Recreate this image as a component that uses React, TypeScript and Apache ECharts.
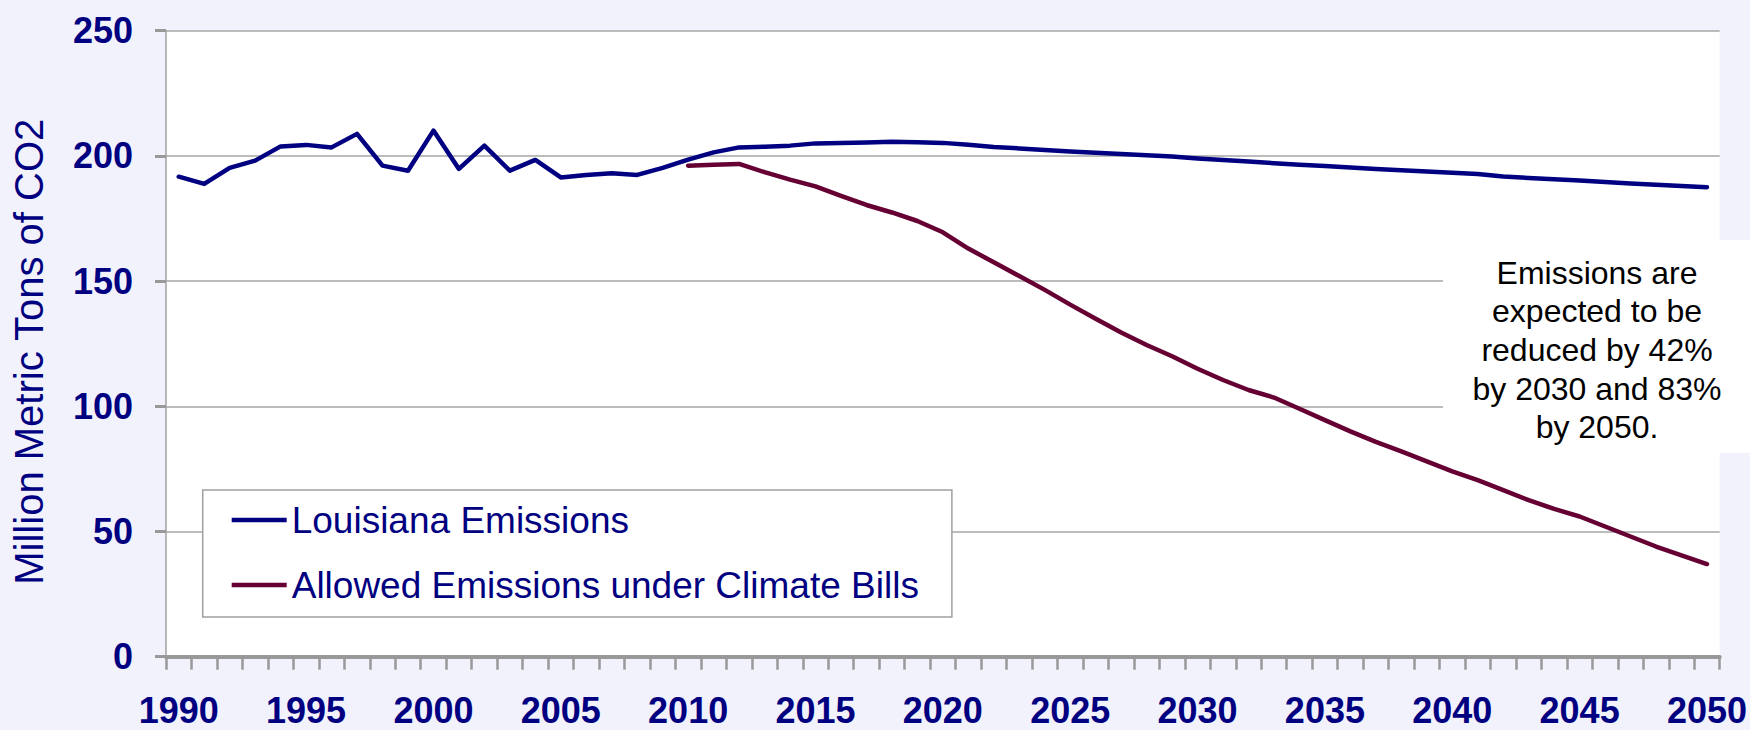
import React, { useEffect, useRef } from "react";
import * as echarts from "echarts";

const years: string[] = [];
for (let y = 1990; y <= 2050; y++) years.push(String(y));

const louisianaEmissions: number[] = [
  191.7, 188.8, 195.2, 198.1, 203.8, 204.4, 203.4, 208.8, 196.1, 194.1,
  210.1, 194.8, 204.1, 194.1, 198.4, 191.4, 192.4, 193.1, 192.4, 195.2,
  198.5, 201.4, 203.4, 203.7, 204.1, 205.0, 205.2, 205.4, 205.7, 205.5,
  205.2, 204.5, 203.6, 203.0, 202.4, 201.8, 201.3, 200.8, 200.3, 199.8,
  199.0, 198.4, 197.8, 197.1, 196.5, 196.0, 195.4, 194.8, 194.3, 193.8,
  193.3, 192.8, 191.8, 191.2, 190.7, 190.2, 189.6, 189.0, 188.5, 188.0,
  187.5,
];

const allowedEmissions: (number | null)[] = [
  null, null, null, null, null, null, null, null, null, null,
  null, null, null, null, null, null, null, null, null, null,
  196.1, 196.5, 196.8, 193.5, 190.5, 187.8, 184.0, 180.4, 177.4, 174.0,
  169.5, 163.0, 157.5, 152.0, 146.5, 140.6, 135.0, 129.5, 124.5, 120.0,
  115.0, 110.5, 106.5, 103.5, 99.0, 94.5, 90.0, 85.8, 82.0, 78.0,
  74.0, 70.5, 66.5, 62.5, 59.0, 56.0, 52.0, 48.0, 44.0, 40.5,
  37.0,
];

const seriesNames = ["Louisiana Emissions", "Allowed Emissions under Climate Bills"];
const yTitle = "Million Metric Tons of CO2";
const noteText = "Emissions are\nexpected to be\nreduced by 42%\nby 2030 and 83%\nby 2050.";

const NAVY = "#000080";
const MAROON = "#660033";
const FONT = "'Liberation Sans', Arial, sans-serif";

export default function App() {
  const ref = useRef<HTMLDivElement>(null);
  useEffect(() => {
    if (!ref.current) return;
    const chart = echarts.init(ref.current, undefined, { renderer: "svg" });
    chart.setOption({
      animation: false,
      backgroundColor: "#F2F2FC",
      textStyle: { fontFamily: FONT },
      grid: {
        left: 166,
        right: 29,
        top: 30.7,
        bottom: 73.3,
        show: true,
        backgroundColor: "#ffffff",
        borderWidth: 0,
      },
      legend: {
        orient: "vertical",
        left: 202.7,
        top: 490,
        data: seriesNames,
        icon: "rect",
        itemWidth: 55,
        itemHeight: 4.5,
        itemGap: 25,
        itemTextGap: 3,
        padding: [10, 33, 12, 29],
        backgroundColor: "#ffffff",
        borderColor: "#A0A0A0",
        borderWidth: 1.5,
        textStyle: { color: NAVY, fontSize: 37, fontFamily: FONT, lineHeight: 40 },
      },
      xAxis: {
        type: "category",
        data: years,
        boundaryGap: true,
        axisLine: { show: true, lineStyle: { color: "#999999", width: 4 } },
        axisTick: {
          show: true,
          interval: 0,
          length: 13,
          lineStyle: { color: "#999999", width: 2.5 },
        },
        axisLabel: {
          interval: 4,
          margin: 37,
          color: NAVY,
          fontSize: 36,
          lineHeight: 34,
          fontWeight: "bold",
          fontFamily: FONT,
        },
        splitLine: { show: false },
      },
      yAxis: {
        type: "value",
        min: 0,
        max: 250,
        interval: 50,
        name: yTitle,
        nameLocation: "middle",
        nameRotate: 90,
        nameGap: 117,
        nameTextStyle: {
          color: NAVY,
          fontSize: 40,
          fontFamily: FONT,
          padding: [0, 16, 0, 0],
        },
        axisLine: { show: true, lineStyle: { color: "#A0A0A0", width: 1.5 } },
        axisTick: { show: true, length: 11, lineStyle: { color: "#999999", width: 3 } },
        axisLabel: {
          margin: 33,
          color: NAVY,
          fontSize: 36,
          fontWeight: "bold",
          fontFamily: FONT,
        },
        splitLine: { show: true, lineStyle: { color: "#A6A6A6", width: 1.5 } },
      },
      series: [
        {
          name: seriesNames[0],
          type: "line",
          data: louisianaEmissions,
          showSymbol: false,
          symbol: "none",
          color: NAVY,
          lineStyle: { color: NAVY, width: 4.5, cap: "round", join: "round" },
          z: 3,
        },
        {
          name: seriesNames[1],
          type: "line",
          data: allowedEmissions,
          showSymbol: false,
          symbol: "none",
          color: MAROON,
          lineStyle: { color: MAROON, width: 4.5, cap: "round", join: "round" },
          z: 3,
        },
      ],
      graphic: [
        {
          type: "rect",
          left: 1443,
          top: 240,
          shape: { width: 307, height: 213 },
          style: { fill: "#ffffff" },
          z: 2,
        },
        {
          type: "text",
          x: 1597,
          y: 350,
          z: 4,
          style: {
            text: noteText,
            fill: "#000000",
            fontSize: 32,
            fontFamily: FONT,
            lineHeight: 38.7,
            align: "center",
            verticalAlign: "middle",
          },
        },
      ],
    });
    return () => chart.dispose();
  }, []);
  return (
    <div
      ref={ref}
      style={{ position: "absolute", left: 0, top: 0, width: 1750, height: 730 }}
    />
  );
}
